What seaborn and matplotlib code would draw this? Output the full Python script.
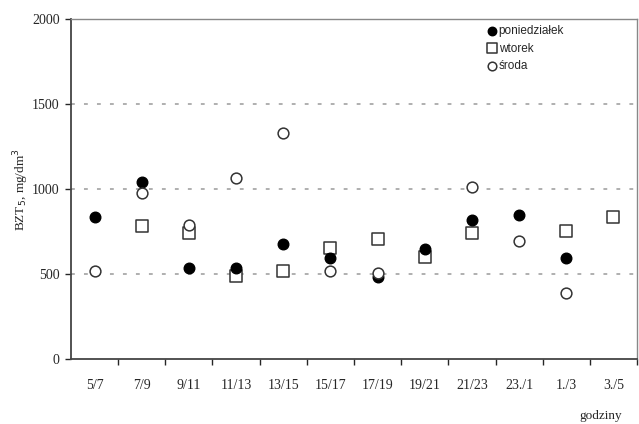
import numpy as np
import pandas as pd
import matplotlib
matplotlib.use("Agg")
import matplotlib.pyplot as plt
import seaborn as sns

# godziny (time intervals)
hours = ["5/7", "7/9", "9/11", "11/13", "13/15", "15/17", "17/19",
         "19/21", "21/23", "23./1", "1./3", "3./5"]

# BZT5 values, mg/dm3 (NaN = no measurement)
poniedzialek = [835, 1040, 535, 535, 680, 595, 485, 645, 818, 848, 595, np.nan]
wtorek = [np.nan, 782, 740, 490, 520, 653, 706, 600, 742, np.nan, 752, 838]
sroda = [518, 976, 788, 1065, 1328, 518, 505, np.nan, 1010, 695, 388, np.nan]

yticks = [0, 500, 1000, 1500, 2000]

sns.set_style("white")
plt.rcParams["font.family"] = ["Liberation Serif", "DejaVu Serif"]

df = pd.DataFrame({
    "pos": np.arange(len(hours)),
    "godziny": hours,
    "poniedziałek": poniedzialek,
    "wtorek": wtorek,
    "środa": sroda,
})

fig = plt.figure(figsize=(6.39, 4.24), dpi=100)
ax = fig.add_axes([0.111, 0.153, 0.886, 0.802])

# dashed gridlines
for v in [500, 1000, 1500]:
    ax.axhline(v, color="#9a9a9a", linestyle=(0, (2.5, 6)), linewidth=1.1, zorder=0)

sns.scatterplot(data=df, x="pos", y="poniedziałek", marker="o", s=58,
                color="black", edgecolor="black", linewidth=1.0,
                label="poniedziałek", ax=ax, zorder=3)
sns.scatterplot(data=df, x="pos", y="wtorek", marker="s", s=75,
                facecolor="white", edgecolor="#333333", linewidth=1.1,
                label="wtorek", ax=ax, zorder=2)
sns.scatterplot(data=df, x="pos", y="środa", marker="o", s=60,
                facecolor="white", edgecolor="#333333", linewidth=1.1,
                label="środa", ax=ax, zorder=4)

ax.set_xlim(-0.5, len(hours) - 0.5)
ax.set_ylim(0, 2000)
ax.set_yticks(yticks)
ax.set_yticklabels([str(t) for t in yticks], fontsize=10)
ax.set_xticks(np.arange(len(hours)))
ax.set_xticklabels(hours, fontsize=10)
ax.set_xticks(np.arange(len(hours)) + 0.5, minor=True)
ax.tick_params(axis="x", which="major", length=0, pad=14)
ax.tick_params(axis="x", which="minor", length=4, direction="out", width=1)
ax.tick_params(axis="y", length=4, direction="out", width=1, pad=4)
ax.xaxis.set_ticks_position("bottom")
ax.yaxis.set_ticks_position("left")
ax.set_xlabel("")
ax.set_ylabel("BZT$_5$, mg/dm$^3$", fontsize=9.5)
ax.yaxis.set_label_coords(-0.07, 0.5)

for side in ["left", "bottom"]:
    ax.spines[side].set_color("#444444")
    ax.spines[side].set_linewidth(1.3)
for side in ["top", "right"]:
    ax.spines[side].set_color("#888888")
    ax.spines[side].set_linewidth(1.0)

leg = ax.legend(loc="upper left", bbox_to_anchor=(0.715, 1.015), frameon=False,
                handletextpad=0.05, labelspacing=0.5, handlelength=1.0,
                prop={"family": "Liberation Sans", "size": 8.5}, markerscale=0.8)

fig.text(0.94, 0.005, "godziny", fontsize=9.5, ha="center", va="bottom")

fig.savefig("out.png", dpi=100)
